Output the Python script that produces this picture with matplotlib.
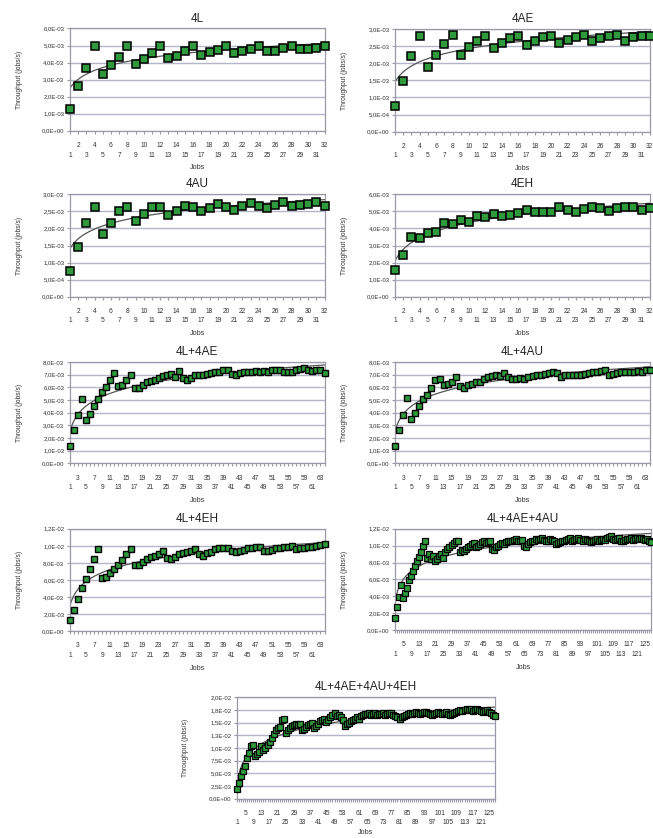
import numpy as np
import matplotlib
matplotlib.use("Agg")
import matplotlib.pyplot as plt
from matplotlib.ticker import FixedLocator, FuncFormatter

plt.rcParams['font.family'] = ['Liberation Sans', 'DejaVu Sans']

# throughput values, in units of 1E-3 jobs/s
titles = ["4L", "4AE", "4AU", "4EH", "4L+4AE", "4L+4AU", "4L+4EH",
          "4L+4AE+4AU", "4L+4AE+4AU+4EH"]

t_4l = [1.3, 2.6, 3.7, 5.0, 3.3, 3.85, 4.3, 5.0, 3.9, 4.2, 4.55, 5.0, 4.25, 4.4, 4.7, 5.0,
        4.45, 4.6, 4.75, 5.0, 4.55, 4.65, 4.8, 5.0, 4.65, 4.7, 4.85, 5.0, 4.8, 4.8, 4.85, 5.0]
t_4ae = [0.75, 1.49, 2.21, 2.81, 1.88, 2.25, 2.56, 2.82, 2.26, 2.49, 2.67, 2.80, 2.44, 2.60, 2.74, 2.80,
         2.54, 2.67, 2.78, 2.80, 2.59, 2.69, 2.78, 2.84, 2.66, 2.74, 2.79, 2.82, 2.67, 2.78, 2.81, 2.81]
t_4au = [0.76, 1.47, 2.16, 2.63, 1.84, 2.16, 2.52, 2.63, 2.21, 2.42, 2.63, 2.63, 2.40, 2.51, 2.67, 2.63,
         2.50, 2.60, 2.72, 2.63, 2.55, 2.66, 2.75, 2.66, 2.61, 2.68, 2.77, 2.66, 2.68, 2.72, 2.77, 2.66]
t_4eh = [1.56, 2.46, 3.48, 3.44, 3.76, 3.80, 4.33, 4.27, 4.49, 4.39, 4.72, 4.65, 4.88, 4.76, 4.82, 4.90,
         5.08, 4.98, 4.96, 4.98, 5.28, 5.10, 4.96, 5.12, 5.28, 5.20, 5.02, 5.20, 5.28, 5.28, 5.10, 5.20]
t_4l_4ae = [1.37, 2.6, 3.8, 5.1, 3.45, 3.9, 4.5, 5.1, 5.6, 6.05, 6.6, 7.1, 6.1, 6.15, 6.55, 7.0,
            5.95, 5.95, 6.2, 6.4, 6.5, 6.6, 6.7, 6.9, 7.0, 7.05, 6.8, 7.3, 6.75, 6.6, 6.75, 6.95,
            7.0, 7.0, 7.05, 7.15, 7.25, 7.2, 7.35, 7.4, 7.05, 6.95, 7.15, 7.2, 7.2, 7.25, 7.3, 7.25,
            7.3, 7.25, 7.4, 7.4, 7.4, 7.25, 7.2, 7.25, 7.35, 7.45, 7.55, 7.35, 7.3, 7.4, 7.4, 7.15]
t_4l_4au = [1.37, 2.6, 3.85, 5.15, 3.5, 3.95, 4.55, 5.05, 5.4, 5.95, 6.55, 6.65, 6.15, 6.25, 6.45, 6.8,
            6.1, 5.95, 6.15, 6.3, 6.4, 6.45, 6.65, 6.8, 6.9, 6.95, 6.9, 7.15, 6.8, 6.65, 6.65, 6.7,
            6.65, 6.8, 6.9, 6.95, 7.0, 7.05, 7.15, 7.25, 7.15, 6.85, 6.95, 7.0, 7.0, 7.0, 7.0, 7.05,
            7.15, 7.2, 7.25, 7.3, 7.35, 7.0, 7.05, 7.15, 7.25, 7.2, 7.25, 7.2, 7.3, 7.25, 7.35, 7.35]
t_4l_4eh = [1.35, 2.5, 3.75, 5.0, 6.05, 7.25, 8.5, 9.65, 6.2, 6.35, 6.85, 7.3, 7.8, 8.3, 9.0, 9.65,
            7.8, 7.75, 8.1, 8.5, 8.7, 8.8, 9.0, 9.45, 8.6, 8.5, 8.7, 9.0, 9.2, 9.3, 9.35, 9.65,
            9.0, 8.8, 9.1, 9.3, 9.65, 9.75, 9.75, 9.75, 9.35, 9.3, 9.35, 9.55, 9.75, 9.8, 9.9, 9.9,
            9.35, 9.45, 9.55, 9.75, 9.8, 9.9, 9.9, 10.0, 9.65, 9.75, 9.8, 9.85, 9.9, 10.0, 10.1, 10.2]
t_4l_4ae_4au = [1.4, 2.8, 3.9, 5.3, 3.8, 4.4, 5.0, 5.9, 6.4, 7.0, 7.6, 8.2, 8.7, 9.3, 10.0, 10.6,
                8.6, 9.0, 8.4, 8.8, 8.2, 8.4, 8.8, 9.0, 8.6, 9.2, 9.6, 9.9, 10.1, 10.3, 10.5, 10.6,
                9.2, 9.5, 9.4, 9.6, 9.8, 10.0, 10.2, 10.3, 9.8, 10.0, 10.2, 10.4, 10.5, 10.3, 10.4, 10.5,
                9.6, 9.5, 9.8, 10.0, 10.2, 10.3, 10.2, 10.4, 10.5, 10.6, 10.5, 10.7, 10.8, 10.6, 10.5, 10.7,
                10.0, 9.8, 10.2, 10.4, 10.5, 10.6, 10.8, 10.7, 10.8, 10.9, 10.7, 10.5, 10.6, 10.8, 10.7, 10.6,
                10.2, 10.3, 10.4, 10.5, 10.6, 10.7, 10.8, 10.9, 10.6, 10.7, 10.8, 10.9, 10.7, 10.6, 10.8, 10.7,
                10.5, 10.4, 10.6, 10.7, 10.8, 10.6, 10.7, 10.8, 10.7, 10.9, 11.0, 11.1, 10.8, 10.7, 10.8, 10.9,
                10.5, 10.6, 10.7, 10.8, 10.8, 10.9, 10.7, 10.8, 10.9, 10.8, 10.9, 10.8, 10.7, 10.8, 10.6, 10.4]
t_all = [1.8, 3.0, 4.5, 5.5, 6.5, 8.0, 9.0, 10.3, 10.5, 8.5, 8.8, 9.2, 10.4, 9.6, 10.0, 10.6,
         11.2, 12.0, 12.8, 13.6, 14.0, 14.2, 15.6, 15.8, 13.0, 13.6, 14.0, 14.4, 14.6, 14.8, 14.5, 14.7,
         13.6, 13.8, 14.2, 14.6, 14.8, 15.0, 14.0, 14.4, 14.8, 15.4, 15.6, 15.8, 15.2, 15.6, 16.0, 16.4,
         16.8, 16.2, 16.4, 16.0, 15.6, 14.4, 14.8, 15.0, 15.4, 15.6, 15.8, 16.0, 15.8, 16.2, 16.4, 16.6,
         16.6, 16.8, 16.4, 16.6, 16.8, 16.4, 16.6, 16.7, 16.9, 16.5, 16.7, 16.8, 16.9, 16.4, 16.2, 16.0,
         15.8, 16.0, 16.2, 16.4, 16.6, 16.8, 16.7, 16.9, 17.0, 16.8, 16.6, 16.9, 17.1, 17.0, 16.8, 16.6,
         16.4, 16.6, 16.8, 17.0, 16.8, 16.7, 16.9, 17.1, 16.6, 16.4, 16.6, 16.8, 17.0, 17.2, 17.4, 17.3,
         17.5, 17.6, 17.4, 17.6, 17.3, 17.5, 17.6, 17.4, 17.2, 17.0, 17.3, 17.4, 17.1, 16.8, 16.4, 16.2]

series = [t_4l, t_4ae, t_4au, t_4eh, t_4l_4ae, t_4l_4au, t_4l_4eh, t_4l_4ae_4au, t_all]

# y axis ticks (in 1E-3) for each panel
y_ticks = [np.arange(0, 6.01, 1.0), np.arange(0, 3.01, 0.5), np.arange(0, 3.01, 0.5),
           np.arange(0, 6.01, 1.0), np.arange(0, 8.01, 1.0), np.arange(0, 8.01, 1.0),
           np.arange(0, 12.01, 2.0), np.arange(0, 12.01, 2.0), np.arange(0, 20.01, 2.5)]

# axes positions [left, bottom, width, height] in figure fraction
positions = [[0.107, 0.844, 0.39, 0.122], [0.605, 0.843, 0.39, 0.122],
             [0.107, 0.646, 0.39, 0.122], [0.605, 0.646, 0.39, 0.122],
             [0.107, 0.447, 0.39, 0.121], [0.605, 0.447, 0.39, 0.121],
             [0.107, 0.247, 0.39, 0.122], [0.605, 0.248, 0.392, 0.121],
             [0.363, 0.047, 0.395, 0.121]]

green = '#2f9a3c'
grid_col = '#b3b6c9'
spine_col = '#9a9aa6'
txt_col = '#333333'


def sci_label(v):
    # Excel-like "6,0E-03" with a decimal comma
    if v == 0:
        return "0,0E+00"
    s = "%.1E" % (v * 1e-3)
    return s.replace(".", ",")


fig = plt.figure(figsize=(6.53, 8.38), dpi=100)

for k, (title, vals, yt, pos) in enumerate(zip(titles, series, y_ticks, positions)):
    ax = fig.add_axes(pos)
    n = len(vals)
    x = np.arange(1, n + 1)
    vals = np.array(vals)

    # logarithmic trendline fitted to the data
    b, a = np.polyfit(np.log(x), vals, 1)
    xf = np.linspace(1, n, 300)
    ax.plot(xf, a + b * np.log(xf), color='#555555', lw=0.9, zorder=2)

    if n <= 32:
        ms, mew = 5.5, 1.1
    elif n <= 64:
        ms, mew = 4.8, 1.0
    else:
        ms, mew = 4.2, 0.9
    ax.plot(x, vals, 's', color=green, mec='black', ms=ms, mew=mew, zorder=3, clip_on=False)

    ax.set_xlim(1, n)
    ax.set_ylim(yt[0], yt[-1])
    ax.set_yticks(yt)
    ax.set_yticklabels([sci_label(v) for v in yt])
    ax.grid(axis='y', color=grid_col, lw=1.0)
    ax.set_axisbelow(True)
    for s in ax.spines.values():
        s.set_color(spine_col)
        s.set_linewidth(0.9)

    # staggered category labels
    step = 1 if n <= 32 else (2 if n <= 64 else 4)
    labeled = list(range(1, n + 1, step))
    lower = labeled[0::2]
    upper = labeled[1::2]
    ax.xaxis.set_major_locator(FixedLocator(upper))
    ax.xaxis.set_major_formatter(FuncFormatter(lambda v, p: "%d" % round(v)))
    minor = [i for i in range(1, n + 1) if i not in upper]
    ax.xaxis.set_minor_locator(FixedLocator(minor))
    lower_set = set(lower)
    ax.xaxis.set_minor_formatter(FuncFormatter(
        lambda v, p, ls=lower_set: ("%d" % round(v)) if round(v) in ls else ""))
    ax.tick_params(axis='x', which='major', length=2.5, width=0.8, color=spine_col,
                   pad=5.5, labelsize=4.8, labelcolor=txt_col)
    ax.tick_params(axis='x', which='minor', length=2.5, width=0.8, color=spine_col,
                   pad=12.5, labelsize=4.8, labelcolor=txt_col)
    ax.tick_params(axis='y', length=2.5, width=0.8, color=spine_col, pad=1.5,
                   labelsize=4.3, labelcolor=txt_col)

    ax.set_title(title, fontsize=8.5, color='#222222', pad=5)
    ax.set_xlabel("Jobs", fontsize=5.2, color=txt_col)
    ax.xaxis.set_label_coords(0.5, -0.3 if k == 8 else -0.33)
    ax.set_ylabel("Throughput (jobs/s)", fontsize=4.8, color=txt_col)
    ax.yaxis.set_label_coords(-0.185, 0.5)

fig.savefig("out.png", dpi=100, facecolor='white')
